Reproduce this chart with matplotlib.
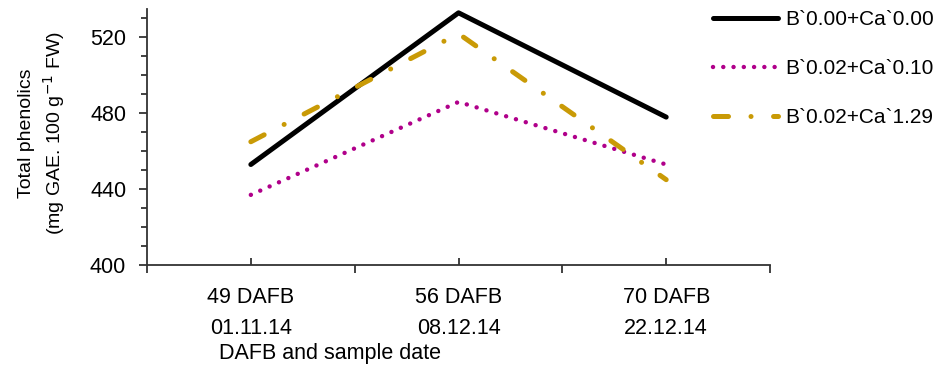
import matplotlib.pyplot as plt
from matplotlib.ticker import MultipleLocator

plt.rcParams['font.family'] = ['Liberation Sans', 'DejaVu Sans']

# Sampling dates and series values.
categories = ["49 DAFB\n01.11.14", "56 DAFB\n08.12.14", "70 DAFB\n22.12.14"]
b000_ca000 = [453, 533, 478]
b002_ca010 = [437, 486, 453]
b002_ca129 = [465, 522, 445]

fig = plt.figure(figsize=(9.46, 3.71), dpi=100)
ax = fig.add_axes([0.1554, 0.2857, 0.6586, 0.69])

x = list(range(len(categories)))
ax.plot(x, b000_ca000, color="black", lw=3.6, solid_capstyle="round",
        label="B`0.00+Ca`0.00")
ax.plot(x, b002_ca010, color="#b0008a", lw=3.2, linestyle=(0, (0.01, 2.3)),
        dash_capstyle="round", label="B`0.02+Ca`0.10")
ax.plot(x, b002_ca129, color="#c99a06", lw=3.6, linestyle=(0, (3.0, 4.5, 0.01, 4.5)),
        dash_capstyle="round", label="B`0.02+Ca`1.29")

ax.set_xlim(-0.5, len(categories) - 0.5)
ax.set_ylim(400, 535)

ax.spines["top"].set_visible(False)
ax.spines["right"].set_visible(False)
for s in ("left", "bottom"):
    ax.spines[s].set_color("#333333")
    ax.spines[s].set_linewidth(1.3)

# boundaries as major ticks, category centres as minor ticks with labels
ax.set_xticks([i - 0.5 for i in range(len(categories) + 1)])
ax.set_xticklabels([])
ax.set_xticks(x, minor=True)
ax.set_xticklabels(categories, minor=True, fontsize=15.5, linespacing=1.6)
ax.tick_params(axis="x", which="major", direction="out", length=6, width=1.3, color="#333333")
ax.tick_params(axis="x", which="minor", direction="in", length=5, width=1.3, color="#333333", pad=16)

ax.yaxis.set_major_locator(MultipleLocator(40))
ax.yaxis.set_minor_locator(MultipleLocator(10))
ax.tick_params(axis="y", which="major", direction="out", length=6, width=1.3, color="#333333",
               labelsize=15.5, pad=9)
ax.tick_params(axis="y", which="minor", direction="out", length=4, width=1.3, color="#333333")

fig.text(0.045, 0.64, "Total phenolics\n(mg GAE. 100 g$^{-1}$ FW)", rotation=90,
         ha="center", va="center", fontsize=14, linespacing=1.3)
fig.text(0.231, 0.048, "DAFB and sample date", fontsize=15.5, ha="left", va="center")

ax.legend(loc="upper left", bbox_to_anchor=(0.734, 1.024), bbox_transform=fig.transFigure,
          frameon=False, fontsize=15, handlelength=3.1, labelspacing=1.45, handletextpad=0.35)

fig.savefig("out.png", dpi=100)
